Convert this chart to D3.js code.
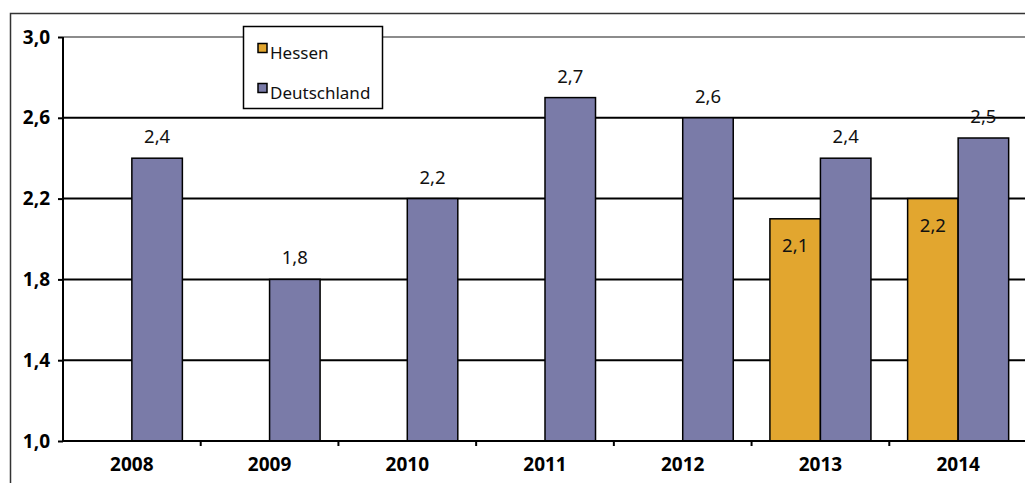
<!DOCTYPE html>
<html>
<head>
<meta charset="utf-8">
<script src="https://cdn.jsdelivr.net/npm/d3@7"></script>
<style>
  html, body { margin: 0; padding: 0; background: #fff; }
  svg { display: block; font-family: "Noto Sans", "Open Sans", sans-serif; }
</style>
</head>
<body>
<svg id="chart" width="1025" height="483"></svg>
<script>
// Years shown on the x axis
const years = ["2008", "2009", "2010", "2011", "2012", "2013", "2014"];
// Series names
const seriesNames = ["Hessen", "Deutschland"];
// Values per year (null = no value)
const hessen = [null, null, null, null, null, 2.1, 2.2];
const deutschland = [2.4, 1.8, 2.2, 2.7, 2.6, 2.4, 2.5];
// Y axis ticks
const yTicks = [1.0, 1.4, 1.8, 2.2, 2.6, 3.0];

const colors = { Hessen: "#E2A62F", Deutschland: "#7A7BA8" };
const fmt = v => d3.format(".1f")(v).replace(".", ",");

const svg = d3.select("#chart");
const plotLeft = 63, plotRight = 1027, plotTop = 37, plotBottom = 441;

// outer frame (cut off at right and bottom)
svg.append("path")
  .attr("d", "M10.5,490 L10.5,13.5 L1030,13.5")
  .attr("fill", "none").attr("stroke", "#333").attr("stroke-width", 1.5);

const x = d3.scaleBand().domain(years).range([plotLeft, plotRight]).paddingInner(0).paddingOuter(0);
const x1 = d3.scaleBand().domain(seriesNames).range([0, x.bandwidth()])
  .paddingInner(0).paddingOuter(0.363);
const y = d3.scaleLinear().domain([1, 3]).range([plotBottom, plotTop]);

// gridlines
svg.append("g").selectAll("line").data(yTicks.filter(t => t > 1)).join("line")
  .attr("x1", plotLeft).attr("x2", plotRight)
  .attr("y1", d => y(d)).attr("y2", d => y(d))
  .attr("stroke", d => d === 3 ? "#8c8c8c" : "#000")
  .attr("stroke-width", 2);

// bars
const rows = years.map((yr, i) => ({ year: yr, Hessen: hessen[i], Deutschland: deutschland[i] }));
const groups = svg.append("g").selectAll("g").data(rows).join("g")
  .attr("transform", d => `translate(${x(d.year)},0)`);

groups.selectAll("rect")
  .data(d => seriesNames.filter(s => d[s] != null).map(s => ({ key: s, value: d[s] })))
  .join("rect")
  .attr("x", d => x1(d.key))
  .attr("width", x1.bandwidth())
  .attr("y", d => y(d.value))
  .attr("height", d => y(1) - y(d.value))
  .attr("fill", d => colors[d.key])
  .attr("stroke", "#000")
  .attr("stroke-width", 1.5);

// value labels: Deutschland above bars, Hessen inside near the top
groups.selectAll("text")
  .data(d => seriesNames.filter(s => d[s] != null).map(s => ({ key: s, value: d[s] })))
  .join("text")
  .attr("x", d => x1(d.key) + x1.bandwidth() / 2)
  .attr("y", d => d.key === "Hessen" ? y(d.value) + 33 : y(d.value) - 15)
  .attr("text-anchor", "middle")
  .attr("font-size", 18.5)
  .attr("fill", "#111")
  .text(d => fmt(d.value));

// y axis
const yAxis = svg.append("g").attr("transform", `translate(${plotLeft},0)`)
  .call(d3.axisLeft(y).tickValues(yTicks).tickFormat(fmt).tickSize(5).tickPadding(8));
yAxis.select(".domain").attr("stroke", "#000").attr("stroke-width", 2).attr("d", `M0,${plotTop}V${plotBottom}`);
yAxis.selectAll(".tick line").attr("stroke", "#000").attr("stroke-width", 2);
yAxis.selectAll(".tick text").attr("font-size", 19).attr("font-weight", "bold").attr("fill", "#000")
  .attr("font-family", "\"Noto Sans\", sans-serif");

// x axis
const xAxis = svg.append("g").attr("transform", `translate(0,${plotBottom})`)
  .call(d3.axisBottom(x).tickSize(0).tickPadding(17));
xAxis.select(".domain").attr("stroke", "#000").attr("stroke-width", 2).attr("d", `M${plotLeft},0H${plotRight}`);
xAxis.selectAll(".tick text").attr("font-size", 19).attr("font-weight", "bold").attr("fill", "#000")
  .attr("font-family", "\"Noto Sans\", sans-serif");
// boundary ticks between categories
xAxis.append("g").selectAll("line").data(years.slice(1)).join("line")
  .attr("x1", d => x(d)).attr("x2", d => x(d))
  .attr("y1", 0).attr("y2", 5)
  .attr("stroke", "#000").attr("stroke-width", 2);

// legend
const legend = svg.append("g");
legend.append("rect").attr("x", 243.5).attr("y", 26.5).attr("width", 139).attr("height", 82)
  .attr("fill", "#fff").attr("stroke", "#000").attr("stroke-width", 1.5);
const li = legend.selectAll("g").data(seriesNames).join("g")
  .attr("transform", (d, i) => `translate(258,${43.5 + i * 40})`);
li.append("rect").attr("width", 9).attr("height", 9)
  .attr("fill", d => colors[d]).attr("stroke", "#000").attr("stroke-width", 1.5);
li.append("text").attr("x", 12).attr("y", 15).attr("font-size", 17).attr("fill", "#111")
  .text(d => d);
</script>
</body>
</html>
